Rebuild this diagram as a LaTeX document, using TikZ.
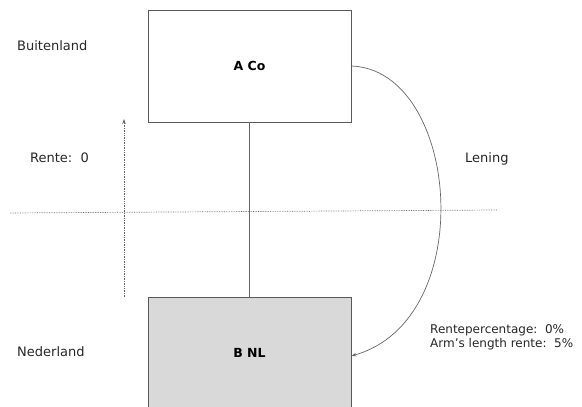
\documentclass[tikz,border=0pt]{standalone}
\usepackage{fontspec}
\setmainfont{DejaVu Sans}
\usetikzlibrary{arrows.meta}

\begin{document}
\begin{tikzpicture}[x=1pt,y=-1pt,
  entity/.style={draw=black!65,line width=0.8pt,minimum width=203pt,inner sep=0pt,font=\fontsize{12.5}{14}\selectfont\bfseries},
  label/.style={font=\fontsize{13}{14}\selectfont,text=black!85,inner sep=0pt},
  flow/.style={draw=black!60,line width=0.7pt,densely dotted}]

  \useasboundingbox (0,0) rectangle (582,407);
  \clip (0,0) rectangle (582,407);

  %% entities
  \node[entity,minimum height=112pt] (aco) at (249.5,66) {A Co};
  \node[entity,minimum height=113pt,fill=black!15,anchor=north] (bnl) at (249.5,297) {};
  \node[font=\fontsize{12.5}{14}\selectfont\bfseries] (bnltext) at (249.5,353) {B NL};

  %% border between the countries
  \coordinate (bordl) at (10,213);
  \coordinate (bordr) at (497,210);
  \draw[flow] (bordl) -- (bordr);

  %% interest flow
  \coordinate (flowlo) at (124,297);
  \coordinate (flowhi) at (124,119);
  \draw[flow,-{Stealth[length=5pt,width=3.5pt]}] (flowlo) -- (flowhi);

  %% ownership
  \draw[black!60,line width=0.8pt] (aco.south) -- (bnl.north);

  %% loan
  \draw[black!60,line width=0.7pt,-{Stealth[length=5pt,width=3.5pt]}]
    (aco.east) .. controls (460,70) and (480,320) .. ([yshift=-2pt]bnl.east);

  %% labels
  \node[label,anchor=west] (buiten) at (17,46) {Buitenland};
  \node[label,anchor=west] (neder) at (17,352) {Nederland};
  \node[label,anchor=west] (rente) at (30,158) {Rente:\ \ 0};
  \node[label,anchor=west] (lening) at (465,159) {Lening};
  \node[label,anchor=west,align=left,font=\fontsize{12}{14}\selectfont] (pct) at (430,337)
    {Rentepercentage:\ \ 0\%\\Arm's length rente:\ \ 5\%};

\end{tikzpicture}
\end{document}
